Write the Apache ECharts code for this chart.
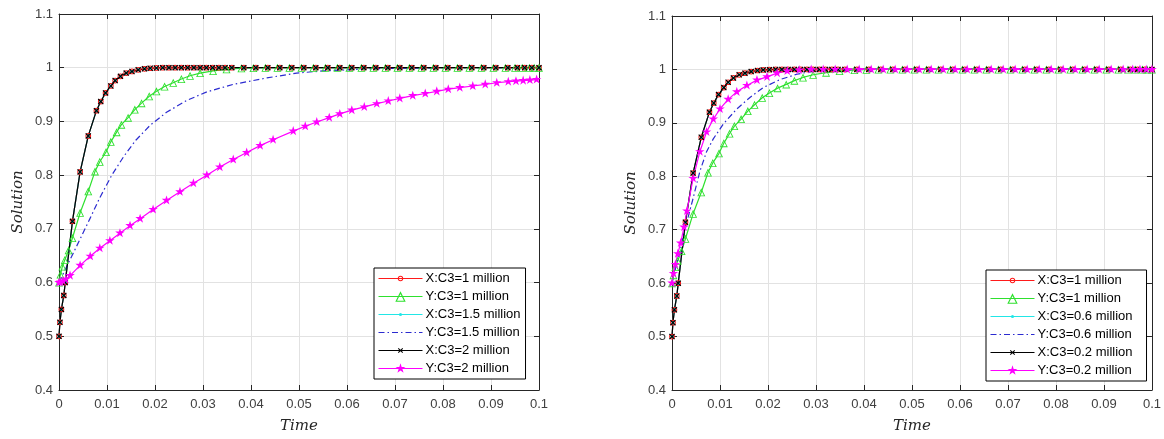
<!DOCTYPE html>
<html><head><meta charset="utf-8">
<script src="https://cdn.jsdelivr.net/npm/echarts@6/dist/echarts.min.js"></script>
<style>html,body{margin:0;padding:0;background:#fff}#c{width:1164px;height:439px}</style>
</head><body><div id="c"></div>
<script>
// ---------- data ----------
// X solutions (identical for every C3 value)
const tX = [0, 0.0002, 0.0005, 0.001, 0.0013, 0.0028, 0.0044, 0.0061, 0.0078, 0.0087,
  0.0097, 0.0108, 0.0117, 0.0128, 0.014, 0.0152, 0.0165, 0.0178, 0.019, 0.0203,
  0.0216, 0.0229, 0.0242, 0.0255, 0.0268, 0.0281, 0.0294, 0.0307, 0.032, 0.0333,
  0.0346, 0.036, 0.0385, 0.041, 0.0435, 0.046, 0.0485, 0.051, 0.0535, 0.056,
  0.0585, 0.061, 0.0635, 0.066, 0.0685, 0.071, 0.0735, 0.076, 0.0785, 0.081,
  0.0835, 0.086, 0.0885, 0.091, 0.0935, 0.0955, 0.097, 0.0985, 0.1];
const yX = [0.5, 0.526, 0.55, 0.576, 0.6, 0.714, 0.806, 0.873, 0.92, 0.937,
  0.953, 0.966, 0.976, 0.984, 0.99, 0.993, 0.996, 0.998, 0.999, 0.9995,
  1, 1, 1, 1, 1, 1, 1, 1, 1, 1,
  1, 1, 1, 1, 1, 1, 1, 1, 1, 1,
  1, 1, 1, 1, 1, 1, 1, 1, 1, 1,
  1, 1, 1, 1, 1, 1, 1, 1, 1];

// Y : C3 = 1 million (both panels)
const tY1 = [0, 0.0003, 0.0007, 0.0012, 0.002, 0.0028, 0.0044, 0.0061, 0.0075, 0.0085,
  0.0098, 0.0108, 0.012, 0.013, 0.0144, 0.0158, 0.0172, 0.0188, 0.0203, 0.022,
  0.0238, 0.0255, 0.0273, 0.0294, 0.0321, 0.0349, 0.038, 0.0405, 0.043, 0.0455,
  0.048, 0.0505, 0.053, 0.0555, 0.058, 0.0605, 0.063, 0.0655, 0.068, 0.0705,
  0.073, 0.0755, 0.078, 0.0805, 0.083, 0.0855, 0.088, 0.0905, 0.093, 0.095,
  0.0965, 0.098, 0.099, 0.1];
const yY1 = [0.6, 0.615, 0.63, 0.642, 0.66, 0.683, 0.73, 0.77, 0.807, 0.825,
  0.843, 0.862, 0.88, 0.894, 0.907, 0.922, 0.934, 0.947, 0.956, 0.965,
  0.972, 0.979, 0.985, 0.99, 0.994, 0.997, 0.999, 0.9995, 1, 1,
  1, 1, 1, 1, 1, 1, 1, 1, 1, 1,
  1, 1, 1, 1, 1, 1, 1, 1, 1, 1,
  1, 1, 1, 1];

// Y : C3 = 1.5 million (left)
const tY15 = [0, 0.0016, 0.0026, 0.0045, 0.0065, 0.0085, 0.011, 0.0135, 0.016, 0.019,
  0.0224, 0.0266, 0.0308, 0.0363, 0.0433, 0.0495, 0.055, 0.06, 0.065, 0.07, 0.08, 0.1];
const yY15 = [0.6, 0.63, 0.648, 0.683, 0.72, 0.758, 0.8, 0.835, 0.865, 0.893,
  0.917, 0.939, 0.955, 0.969, 0.981, 0.99, 0.994, 0.996, 0.998, 0.999, 1, 1];

// Y : C3 = 2 million (left)
const tY2 = [0, 0.0003, 0.0008, 0.0014, 0.0023, 0.0044, 0.0065, 0.0085, 0.0106, 0.0127,
  0.0148, 0.0169, 0.0196, 0.0224, 0.0252, 0.028, 0.0308, 0.0335, 0.0363, 0.0391,
  0.0419, 0.0446, 0.0488, 0.0513, 0.0537, 0.0563, 0.0585, 0.061, 0.0636, 0.0662,
  0.0686, 0.071, 0.0737, 0.0763, 0.0787, 0.0811, 0.0835, 0.0862, 0.0888, 0.0912,
  0.0936, 0.0952, 0.0967, 0.0981, 0.0995];
const yY2 = [0.6, 0.601, 0.603, 0.606, 0.613, 0.632, 0.649, 0.664, 0.678, 0.692,
  0.706, 0.719, 0.736, 0.753, 0.769, 0.785, 0.8, 0.815, 0.829, 0.842,
  0.855, 0.866, 0.882, 0.891, 0.899, 0.907, 0.914, 0.921, 0.927, 0.933,
  0.938, 0.943, 0.948, 0.952, 0.956, 0.96, 0.963, 0.966, 0.969, 0.972,
  0.974, 0.975, 0.976, 0.977, 0.978];

// Y : C3 = 0.6 million (right)
const tY06 = [0, 0.0008, 0.0017, 0.0024, 0.0034, 0.0044, 0.0058, 0.0072, 0.0086, 0.0107,
  0.0135, 0.0163, 0.019, 0.0225, 0.026, 0.029, 0.033, 0.04, 0.05, 0.06, 0.07, 0.08, 0.09, 0.1];
const yY06 = [0.6, 0.63, 0.66, 0.69, 0.725, 0.759, 0.809, 0.846, 0.87, 0.898,
  0.926, 0.948, 0.966, 0.981, 0.991, 0.996, 0.999, 1, 1, 1, 1, 1, 1, 1];

// Y : C3 = 0.2 million (right)
const tY02 = [0, 0.0003, 0.0007, 0.0012, 0.0018, 0.0025, 0.0031, 0.0044, 0.0058, 0.0072,
  0.0086, 0.01, 0.0117, 0.0135, 0.0156, 0.0177, 0.0198, 0.0219, 0.024, 0.0265,
  0.029, 0.0315, 0.034, 0.0365, 0.039, 0.0415, 0.044, 0.0465, 0.049, 0.0515,
  0.054, 0.0565, 0.059, 0.0615, 0.064, 0.0665, 0.069, 0.0715, 0.074, 0.0765,
  0.079, 0.0815, 0.084, 0.0865, 0.089, 0.0915, 0.094, 0.096, 0.0975, 0.0988,
  0.1];
const yY02 = [0.6, 0.618, 0.635, 0.655, 0.675, 0.705, 0.735, 0.796, 0.846, 0.883,
  0.907, 0.926, 0.944, 0.958, 0.97, 0.98, 0.986, 0.993, 0.997, 0.999,
  1, 1, 1, 1, 1, 1, 1, 1, 1, 1,
  1, 1, 1, 1, 1, 1, 1, 1, 1, 1,
  1, 1, 1, 1, 1, 1, 1, 1, 1, 1,
  1];

const namesLeft = ['X:C3=1 million', 'Y:C3=1 million', 'X:C3=1.5 million', 'Y:C3=1.5 million', 'X:C3=2 million', 'Y:C3=2 million'];
const namesRight = ['X:C3=1 million', 'Y:C3=1 million', 'X:C3=0.6 million', 'Y:C3=0.6 million', 'X:C3=0.2 million', 'Y:C3=0.2 million'];
const xTitle = 'Time';
const yTitle = 'Solution';

// ---------- styling ----------
const SYM = {
  ring: 'path://M0,0M10,10M2.4,5A2.6,2.6 0 1,1 7.6,5A2.6,2.6 0 1,1 2.4,5ZM3.3,5A1.7,1.7 0 1,0 6.7,5A1.7,1.7 0 1,0 3.3,5Z',
  tri: 'path://M5,0L10,9L0,9ZM5,2.3L1.7,8.1L8.3,8.1Z',
  dot: 'path://M0,0M10,10M3.5,5A1.5,1.5 0 1,1 6.5,5A1.5,1.5 0 1,1 3.5,5Z',
  cross: 'path://M0,0M10,10M2.5,3.2L3.2,2.5L5,4.3L6.8,2.5L7.5,3.2L5.7,5L7.5,6.8L6.8,7.5L5,5.7L3.2,7.5L2.5,6.8L4.3,5Z',
  star: 'path://M0,0M20,20M10,0L12.25,6.91L19.51,6.91L13.63,11.18L15.88,18.09L10,13.82L4.12,18.09L6.37,11.18L0.49,6.91L7.75,6.91Z',
  blank: 'path://M0,0M1,1'
};
const RED = '#ff1a1a', GREEN = '#2ee02e', CYAN = '#22e6e6', BLUE = '#2b2bd0', BLACK = '#000000', MAG = '#ff00ff';

const zip = (t, y) => t.map((v, i) => [v, y[i]]);
function mk(name, panel, t, y, color, symbol, size, dash) {
  return {
    type: 'line', name: name, xAxisIndex: panel * 2, yAxisIndex: panel * 2,
    data: zip(t, y), symbol: symbol, symbolSize: size,
    showSymbol: symbol !== SYM.blank, showAllSymbol: true, smooth: false,
    lineStyle: {color: color, width: 1.2, type: dash || 'solid'},
    itemStyle: {color: color, borderWidth: 0},
    emphasis: {disabled: true}, silent: true
  };
}

const series = [
  mk(namesLeft[0], 0, tX, yX, RED, SYM.ring, 11),
  mk(namesLeft[1], 0, tY1, yY1, GREEN, SYM.tri, 8),
  mk(namesLeft[2], 0, tX, yX, CYAN, SYM.dot, 10),
  mk(namesLeft[3], 0, tY15, yY15, BLUE, SYM.blank, 1, [6, 3, 1.5, 3]),
  mk(namesLeft[4], 0, tX, yX, BLACK, SYM.cross, 12),
  mk(namesLeft[5], 0, tY2, yY2, MAG, SYM.star, 10),
  mk(namesRight[0], 1, tX, yX, RED, SYM.ring, 11),
  mk(namesRight[1], 1, tY1, yY1, GREEN, SYM.tri, 8),
  mk(namesRight[2], 1, tX, yX, CYAN, SYM.dot, 10),
  mk(namesRight[3], 1, tY06, yY06, BLUE, SYM.blank, 1, [6, 3, 1.5, 3]),
  mk(namesRight[4], 1, tX, yX, BLACK, SYM.cross, 12),
  mk(namesRight[5], 1, tY02, yY02, MAG, SYM.star, 10)
];

const AX = '#262626';
const labelStyle = {color: '#404040', fontSize: 13, fontFamily: 'Liberation Sans, Arial, sans-serif'};
const nameStyle = {color: '#262626', fontSize: 15, fontStyle: 'italic', fontFamily: 'DejaVu Serif, serif'};
function xAxes(g) {
  const base = {gridIndex: g, type: 'value', min: 0, max: 0.1, interval: 0.01};
  return [
    Object.assign({}, base, {position: 'bottom', name: xTitle, nameLocation: 'middle', nameGap: 29, nameTextStyle: nameStyle,
      axisLine: {show: true, onZero: false, lineStyle: {color: AX, width: 1}},
      axisTick: {show: true, inside: true, length: 5, lineStyle: {color: AX}},
      axisLabel: Object.assign({margin: 8}, labelStyle),
      splitLine: {show: true, lineStyle: {color: '#e2e2e2', width: 1}}}),
    Object.assign({}, base, {position: 'top',
      axisLine: {show: true, onZero: false, lineStyle: {color: AX, width: 1}},
      axisTick: {show: true, inside: true, length: 5, lineStyle: {color: AX}},
      axisLabel: {show: false}, splitLine: {show: false}})
  ];
}
function yAxes(g) {
  const base = {gridIndex: g, type: 'value', min: 0.4, max: 1.1, interval: 0.1};
  return [
    Object.assign({}, base, {position: 'left', name: yTitle, nameLocation: 'middle', nameGap: 33, nameTextStyle: nameStyle,
      axisLine: {show: true, onZero: false, lineStyle: {color: AX, width: 1}},
      axisTick: {show: true, inside: true, length: 5, lineStyle: {color: AX}},
      axisLabel: Object.assign({margin: 6}, labelStyle),
      splitLine: {show: true, lineStyle: {color: '#e2e2e2', width: 1}}}),
    Object.assign({}, base, {position: 'right',
      axisLine: {show: true, onZero: false, lineStyle: {color: AX, width: 1}},
      axisTick: {show: true, inside: true, length: 5, lineStyle: {color: AX}},
      axisLabel: {show: false}, splitLine: {show: false}})
  ];
}
const legendBase = {
  orient: 'vertical', itemWidth: 44, itemHeight: 13, itemGap: 5,
  backgroundColor: '#fff', borderColor: '#000', borderWidth: 1, borderRadius: 0,
  lineStyle: {width: 1},
  textStyle: {color: '#000', fontSize: 13, fontFamily: 'Liberation Sans, Arial, sans-serif', padding: [0, 0, 0, -2]},
  selectedMode: false, inactiveColor: '#000'
};

const chart = echarts.init(document.getElementById('c'), null, {renderer: 'canvas'});
chart.setOption({
  animation: false,
  backgroundColor: '#fff',
  grid: [
    {left: 59, top: 14, width: 480, height: 378, containLabel: false},
    {left: 672, top: 16, width: 480, height: 378, containLabel: false}
  ],
  xAxis: xAxes(0).concat(xAxes(1)),
  yAxis: yAxes(0).concat(yAxes(1)),
  legend: [
    Object.assign({}, legendBase, {left: 374, top: 268, padding: [4, 5, 4, 4], data: namesLeft}),
    Object.assign({}, legendBase, {left: 986, top: 270, padding: [4, 14, 4, 4], data: namesRight})
  ],
  series: series
});
</script>
</body></html>
